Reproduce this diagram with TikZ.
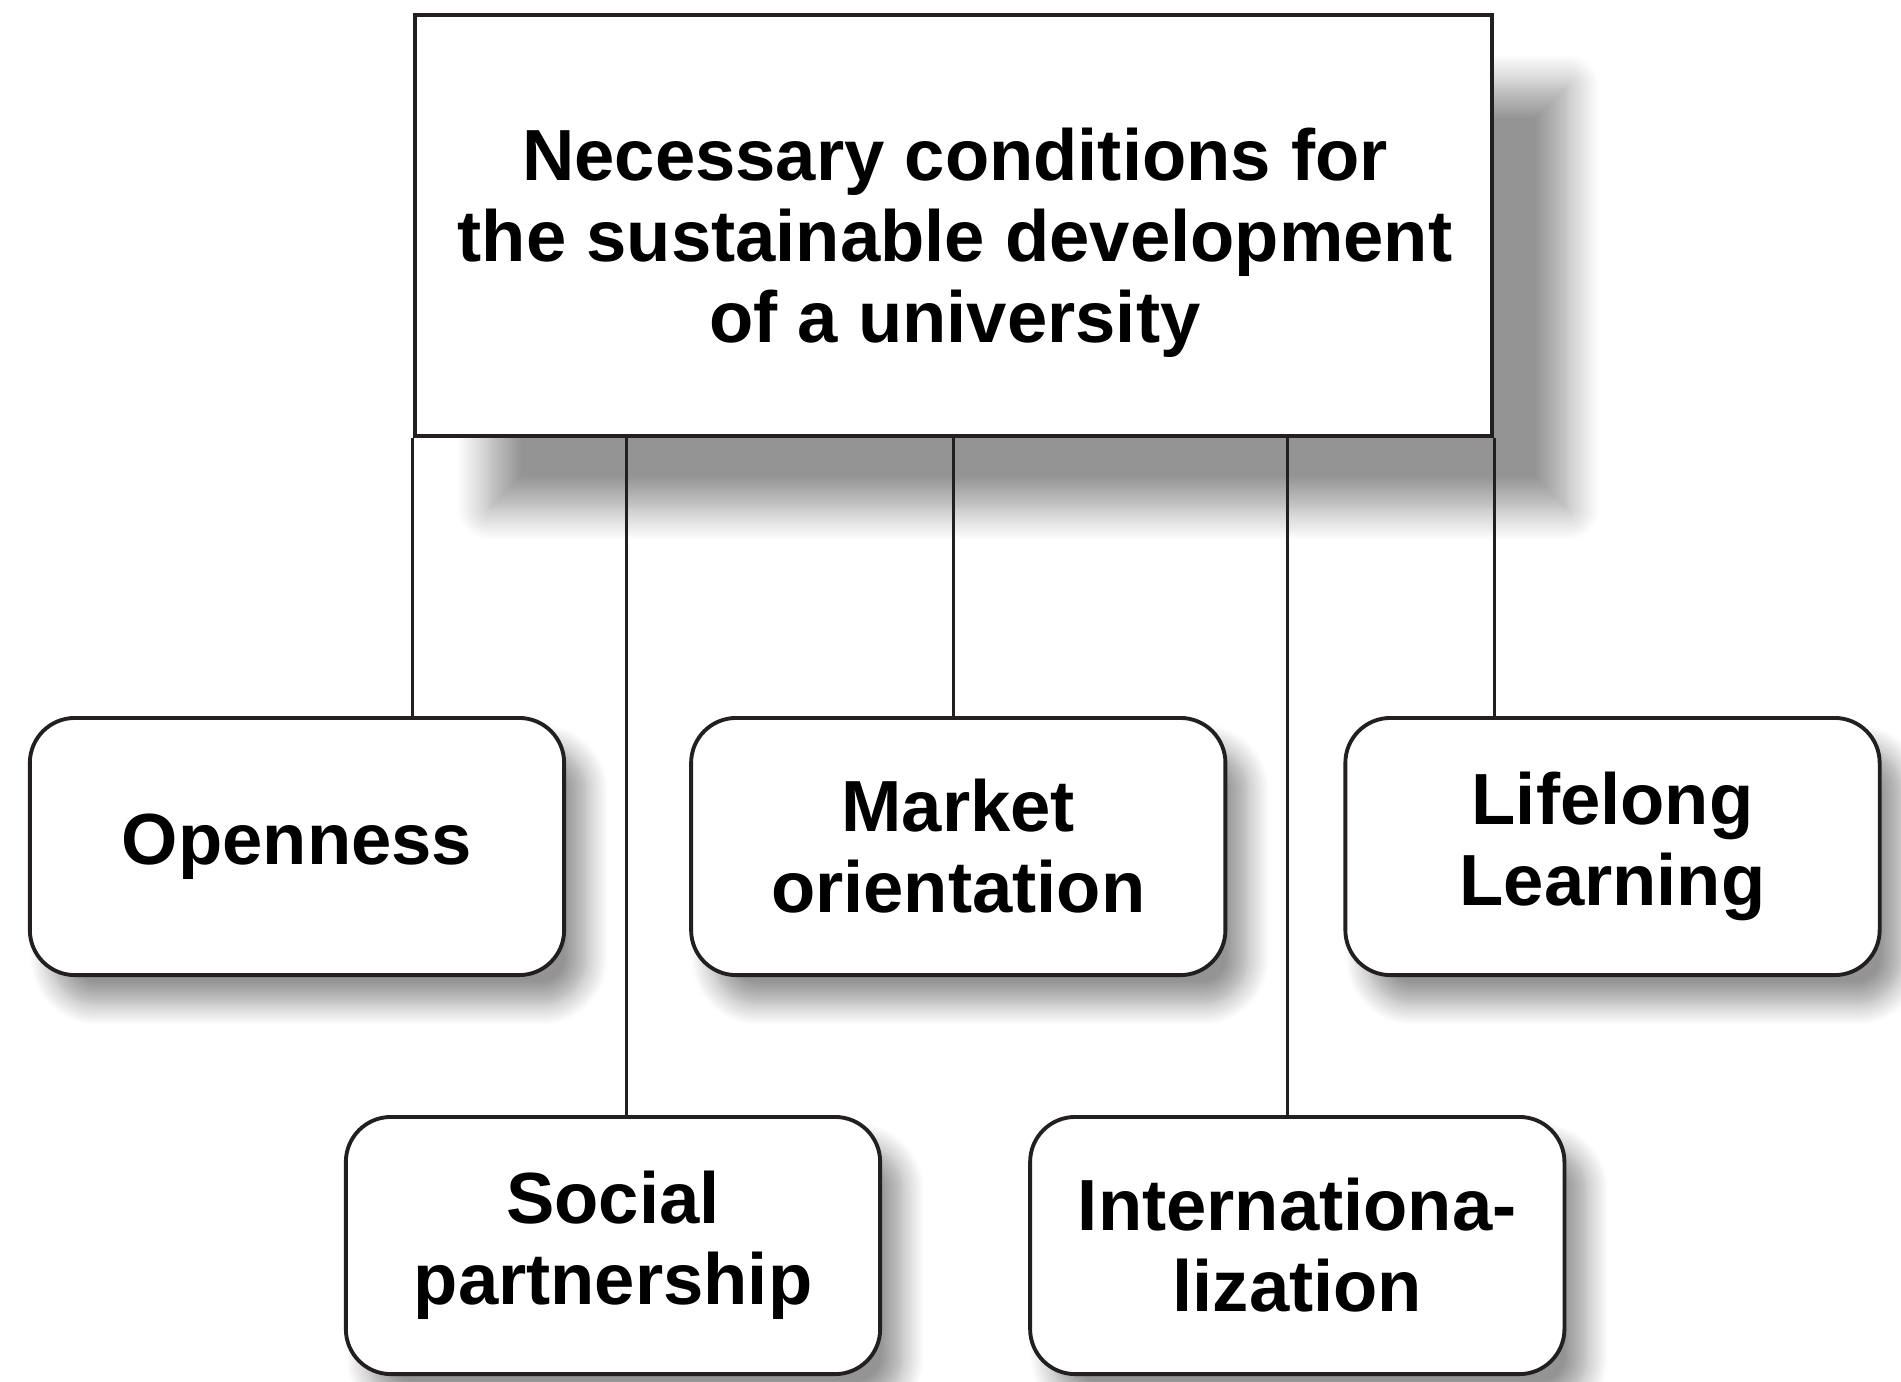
\documentclass[tikz,border=0pt]{standalone}
\usepackage{fontspec}
\setmainfont{Liberation Sans}
\usetikzlibrary{positioning,calc,shadows.blur}
\definecolor{inkDark}{RGB}{35,31,32}

\begin{document}
\begin{tikzpicture}[x=0.01cm,y=-0.01cm,
  font=\fontsize{20.6}{23}\selectfont\bfseries,
  headbox/.style={draw=inkDark,line width=1.1pt,fill=white,minimum width=10.77cm,minimum height=4.21cm,
    blur shadow={shadow xshift=0.75cm,shadow yshift=-0.72cm,shadow blur radius=0.32cm,shadow blur steps=16,shadow opacity=42}},
  condbox/.style={draw=inkDark,line width=1.1pt,fill=white,rounded corners=0.45cm,minimum width=5.34cm,minimum height=2.57cm,align=center,
    blur shadow={shadow xshift=0.22cm,shadow yshift=-0.28cm,shadow blur radius=0.22cm,shadow blur steps=12,shadow opacity=42}},
  link/.style={draw=inkDark,line width=0.8pt}]
\useasboundingbox (0,0) rectangle (1901,1381);
% --- head box ---
\node[headbox] (head) at (953.5,225.5) {};
\node[align=center] (headtxt) at (955,243) {Necessary conditions for\\the sustainable development\\of a university};
% --- connectors ---
\coordinate (cOpen) at (head.south west);
\coordinate (cSoc) at ($(head.south west)!0.198!(head.south east)$);
\coordinate (cMkt) at ($(head.south west)!0.5!(head.south east)$);
\coordinate (cIntl) at ($(head.south west)!0.809!(head.south east)$);
\coordinate (cLife) at (head.south east);
\draw[link] (cOpen) -- (cOpen |- 0,718);
\draw[link] (cSoc) -- (cSoc |- 0,1117);
\draw[link] (cMkt) -- (cMkt |- 0,718);
\draw[link] (cIntl) -- (cIntl |- 0,1117);
\draw[link] (cLife) -- (cLife |- 0,718);
% --- conditions ---
\node[condbox] (open) at (297,846.5) {Openness};
\node[condbox,right=1.23cm of open] (mkt) {Market\\orientation};
\node[condbox,right=1.16cm of mkt] (life) {Lifelong\\Learning};
\node[condbox] (soc) at (613,1245.5) {Social\\partnership};
\node[condbox,right=1.46cm of soc] (intl) {Internationa-\\lization};
\end{tikzpicture}
\end{document}
